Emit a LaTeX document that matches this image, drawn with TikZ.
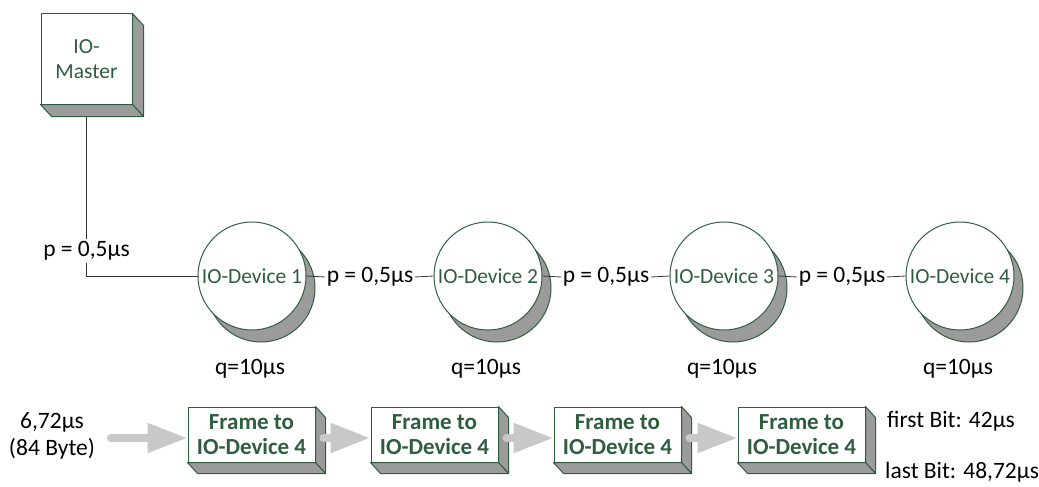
\documentclass[tikz,border=0pt]{standalone}
\usepackage{fontspec}
\setmainfont{Carlito}
\usetikzlibrary{arrows.meta,calc}
\definecolor{dgreen}{RGB}{47,94,62}
\definecolor{sidegray}{RGB}{155,155,155}
\definecolor{arrowgray}{RGB}{200,200,200}
\tikzset{
  lbl/.style={font=\fontsize{23.5}{27}\selectfont, text=black, inner sep=2pt},
  devname/.style={font=\fontsize{21.5}{25}\selectfont, text=dgreen},
  master/.style={draw=dgreen, line width=1pt, fill=white, minimum width=91pt, minimum height=90pt,
    align=center, font=\fontsize{21.5}{25}\selectfont, text=dgreen},
  frame/.style={draw=dgreen, line width=1pt, fill=white, minimum width=127pt, minimum height=55pt,
    align=center, font=\bfseries\fontsize{23}{25}\selectfont, text=dgreen, inner sep=0pt},
  device/.style={circle, draw=dgreen, line width=1pt, fill=white, minimum size=108pt, inner sep=0pt,
    devname},
  crescent/.style={draw=dgreen, line width=1pt, fill=sidegray},
  extrude/.style={draw=dgreen, line width=1pt, fill=sidegray, line join=round},
  wire/.style={draw=black!80, line width=0.8pt},
  flow/.style={draw=arrowgray, line width=8pt, line cap=round,
    -{Triangle[length=40pt,width=28pt]}},
}
\begin{document}
\begin{tikzpicture}[x=1pt,y=-1pt]
\useasboundingbox (0,0) rectangle (1039,487);

% devices: shadow discs behind the white fronts
\foreach \cx in {252,488,724,960}
  \draw[crescent] (\cx+9,276+12) circle[radius=54];
\node[device] (d1) at (252,276) {IO-Device 1};
\node[device] (d2) at (488,276) {IO-Device 2};
\node[device] (d3) at (724,276) {IO-Device 3};
\node[device] (d4) at (960,276) {IO-Device 4};

% master with its line down to the first device
\node[master] (m) at (86.5,59) {IO-\\Master};
\draw[wire] (m.south) |- (d1.west);
\draw[extrude] (m.north east) -- ++(11,12) -- ($(m.south east)+(11,12)$) -- (m.south east) -- cycle;
\draw[extrude] (m.south west) -- ++(11,12) -- ($(m.south east)+(11,12)$) -- (m.south east) -- cycle;
\node[lbl, fill=white] (p0) at (86.5,251) {p = 0,5µs};

% line delays between devices
\node[lbl, inner sep=1.5pt] (p1) at (370,277) {p = 0,5µs};
\node[lbl, inner sep=1.5pt] (p2) at (606,277) {p = 0,5µs};
\node[lbl, inner sep=1.5pt] (p3) at (842,277) {p = 0,5µs};
\draw[wire] (d1.east) -- (p1.west) (p1.east) -- (d2.west);
\draw[wire] (d2.east) -- (p2.west) (p2.east) -- (d3.west);
\draw[wire] (d3.east) -- (p3.west) (p3.east) -- (d4.west);

% processing delays
\node[lbl] (q1) at (250,369) {q=10µs};
\node[lbl] (q2) at (486,369) {q=10µs};
\node[lbl] (q3) at (722,369) {q=10µs};
\node[lbl] (q4) at (958,369) {q=10µs};

% frames travelling along the line
\foreach \i/\fx in {1/251.5,2/434.5,3/617.5,4/801.5}{
  \node[frame] (f\i) at (\fx,434.5) {Frame to\\IO-Device 4};
  \draw[extrude] (f\i.north east) -- ++(10,11) -- ($(f\i.south east)+(10,11)$) -- (f\i.south east) -- cycle;
  \draw[extrude] (f\i.south west) -- ++(10,11) -- ($(f\i.south east)+(10,11)$) -- (f\i.south east) -- cycle;
}

\node[lbl, align=center] (len) at (52,436) {6,72µs\\(84 Byte)};
\coordinate (src) at (111,438);
\draw[flow] (src) -- (src -| f1.west);
\draw[flow] ($(f1.east)+(8,3.5)$) -- ($(f2.west)+(0,3.5)$);
\draw[flow] ($(f2.east)+(8,3.5)$) -- ($(f3.west)+(0,3.5)$);
\draw[flow] ($(f3.east)+(8,3.5)$) -- ($(f4.west)+(0,3.5)$);

\node[lbl, anchor=west] (fb) at (885,421) {first Bit: 42µs};
\node[lbl, anchor=west] (lb) at (883,472) {last Bit: 48,72µs};
\end{tikzpicture}
\end{document}
